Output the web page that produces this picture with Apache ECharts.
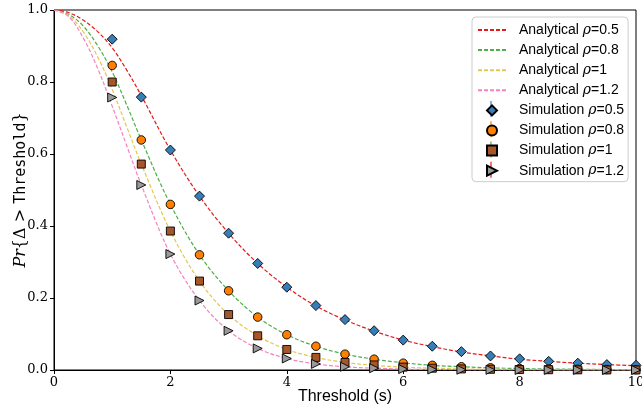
<!DOCTYPE html>
<html>
<head>
<meta charset="utf-8">
<script src="https://cdn.jsdelivr.net/npm/echarts@6/dist/echarts.min.js"></script>
<style>
html,body{margin:0;padding:0;background:#fff;}
#chart{width:642px;height:412px;}
</style>
</head>
<body>
<div id="chart"></div>
<script>
// ---- data ----
var xTicks = [0, 2, 4, 6, 8, 10];
var yTicks = [0.0, 0.2, 0.4, 0.6, 0.8, 1.0];

var xAnalytical = [0, 0.25, 0.5, 0.75, 1, 1.25, 1.5, 2, 2.5, 3, 3.5, 4, 4.5, 5, 5.5, 6, 6.5, 7, 7.5, 8, 8.5, 9, 9.5, 10];
var anaRho05 = [1, 0.993, 0.972, 0.940, 0.895, 0.833, 0.762, 0.611, 0.483, 0.380, 0.296, 0.230, 0.178, 0.139, 0.108, 0.083, 0.065, 0.050, 0.039, 0.030, 0.024, 0.019, 0.015, 0.012];
var anaRho08 = [1, 0.988, 0.956, 0.901, 0.828, 0.736, 0.639, 0.460, 0.320, 0.220, 0.147, 0.098, 0.066, 0.044, 0.030, 0.020, 0.013, 0.009, 0.006, 0.004, 0.003, 0.002, 0.0013, 0.0009];
var anaRho1  = [1, 0.985, 0.940, 0.870, 0.780, 0.675, 0.572, 0.386, 0.247, 0.154, 0.095, 0.057, 0.035, 0.021, 0.013, 0.008, 0.005, 0.003, 0.002, 0.0012, 0.0007, 0.0004, 0.0003, 0.0002];
var anaRho12 = [1, 0.982, 0.923, 0.838, 0.733, 0.623, 0.514, 0.322, 0.193, 0.109, 0.060, 0.032, 0.017, 0.009, 0.005, 0.0025, 0.0013, 0.0007, 0.0004, 0.0002, 0.0001, 0.0001, 0, 0];

var xSim = [1, 1.5, 2, 2.5, 3, 3.5, 4, 4.5, 5, 5.5, 6, 6.5, 7, 7.5, 8, 8.5, 9, 9.5, 10];
var simRho05 = [0.919, 0.758, 0.611, 0.483, 0.380, 0.296, 0.230, 0.179, 0.140, 0.109, 0.083, 0.066, 0.051, 0.039, 0.031, 0.024, 0.019, 0.015, 0.013];
var simRho08 = [0.846, 0.639, 0.460, 0.320, 0.220, 0.147, 0.098, 0.066, 0.044, 0.030, 0.019, 0.013, 0.009, 0.006, 0.004, 0.003, 0.002, 0.0012, 0.0008];
var simRho1  = [0.800, 0.572, 0.386, 0.247, 0.154, 0.095, 0.057, 0.035, 0.021, 0.014, 0.008, 0.005, 0.003, 0.002, 0.0012, 0.0008, 0.0005, 0.0003, 0.0002];
var simRho12 = [0.757, 0.514, 0.322, 0.193, 0.109, 0.060, 0.032, 0.017, 0.009, 0.005, 0.0025, 0.0013, 0.0007, 0.0004, 0.0002, 0.0001, 0.0001, 0, 0];

var anaNames = ['Analytical ρ=0.5', 'Analytical ρ=0.8', 'Analytical ρ=1', 'Analytical ρ=1.2'];
var simNames = ['Simulation ρ=0.5', 'Simulation ρ=0.8', 'Simulation ρ=1', 'Simulation ρ=1.2'];

// ---- styling ----
var lineColors = ['#e41a1c', '#4daf4a', '#e3c753', '#f781bf'];
var markerColors = ['#377eb8', '#ff7f00', '#a65628', '#999999'];
var errColors = ['#377eb8', '#ff7f00', '#4daf4a', '#e41a1c'];
var markerSymbols = [
  'path://M5,0 L10,5 L5,10 L0,5 Z',
  'circle',
  'path://M0,0 L10,0 L10,10 L0,10 Z',
  'path://M0,0 L10,5 L0,10 Z'
];
var markerSizes = [10, 8.5, 8, 9];

function zip(xs, ys) { return xs.map(function (x, i) { return [x, ys[i]]; }); }

var anaData = [anaRho05, anaRho08, anaRho1, anaRho12];
var simData = [simRho05, simRho08, simRho1, simRho12];

var series = [];
anaData.forEach(function (ys, i) {
  series.push({
    name: anaNames[i], type: 'line', data: zip(xAnalytical, ys),
    smooth: 0.35, symbol: 'none', clip: true,
    lineStyle: { color: lineColors[i], width: 1.2, type: [4, 2] },
    itemStyle: { color: lineColors[i] },
    z: 2
  });
});
simData.forEach(function (ys, i) {
  series.push({
    name: simNames[i], type: 'scatter', data: zip(xSim, ys),
    symbol: markerSymbols[i], symbolSize: markerSizes[i], symbolKeepAspect: true,
    itemStyle: { color: markerColors[i], borderColor: '#000', borderWidth: 0.9, opacity: 1 },
    z: 3
  });
});

var legendData = anaNames.map(function (n) {
  return { name: n, itemStyle: { opacity: 0 } };
}).concat(simNames.map(function (n) { return { name: n }; }));

// legend error-bar decoration (vertical ticks through the simulation icons)
var legendLeft = 472, legendTop = 17, rowH = 20.2, firstRow = 11.3;
var graphics = simNames.map(function (n, i) {
  var cy = legendTop + firstRow + (4 + i) * rowH;
  return {
    type: 'line', z: 1,
    shape: { x1: legendLeft + 19, y1: cy - 8, x2: legendLeft + 19, y2: cy + 8 },
    style: { stroke: errColors[i], lineWidth: 1.2 }
  };
});

var chart = echarts.init(document.getElementById('chart'), null, { renderer: 'canvas' });
chart.setOption({
  animation: false,
  backgroundColor: '#fff',
  grid: { left: 54, right: 6, top: 10, bottom: 42, outerBoundsMode: 'none', containLabel: false,
          show: true, borderColor: '#000', borderWidth: 1, backgroundColor: 'transparent' },
  xAxis: {
    type: 'value', min: 0, max: 10, interval: 2,
    name: 'Threshold (s)', nameLocation: 'middle', nameGap: 19, nameMoveOverlap: false,
    nameTextStyle: { fontFamily: 'Liberation Sans', fontSize: 16, color: '#000' },
    axisLine: { show: true, lineStyle: { color: '#000', width: 1 } },
    axisTick: { show: true, inside: false, length: 4, lineStyle: { color: '#000' } },
    axisLabel: { fontFamily: 'DejaVu Serif', fontSize: 13, color: '#000', margin: 6,
      formatter: function (v) { return xTicks.indexOf(v) >= 0 ? String(v) : ''; } },
    splitLine: { show: false }
  },
  yAxis: {
    type: 'value', min: 0, max: 1, interval: 0.2,
    name: '{i|Pr}{n|{Δ > }{t|Threshold}}', nameLocation: 'middle', nameGap: 25, nameMoveOverlap: false,
    nameTextStyle: { fontFamily: 'DejaVu Serif', fontSize: 16, color: '#000',
      rich: {
        i: { fontFamily: 'DejaVu Serif', fontStyle: 'italic', fontSize: 16, color: '#000' },
        n: { fontFamily: 'DejaVu Serif', fontSize: 16, color: '#000' },
        t: { fontFamily: 'DejaVu Sans Mono', fontSize: 15, color: '#000' }
      } },
    axisLine: { show: true, lineStyle: { color: '#000', width: 1 } },
    axisTick: { show: true, inside: false, length: 4, lineStyle: { color: '#000' } },
    axisLabel: { fontFamily: 'DejaVu Serif', fontSize: 13, color: '#000', margin: 6,
      formatter: function (v) { return v.toFixed(1); } },
    splitLine: { show: false }
  },
  legend: {
    orient: 'vertical', left: legendLeft, top: legendTop, z: 4,
    data: legendData,
    padding: [6, 4, 4, 5],
    itemWidth: 28, itemHeight: 10, itemGap: 6.1,
    borderColor: '#cccccc', borderWidth: 1, borderRadius: 4,
    backgroundColor: 'transparent',
    formatter: function (name) {
      var parts = name.split('ρ');
      return '{b|' + parts[0] + '}{r|ρ}{a|' + parts[1] + '}';
    },
    textStyle: {
      fontFamily: 'Liberation Sans', fontSize: 14, color: '#000',
      rich: {
        b: { fontFamily: 'Liberation Sans', fontSize: 14, color: '#000', padding: [0, 0, 0, 8] },
        a: { fontFamily: 'Liberation Sans', fontSize: 14, color: '#000' },
        r: { fontFamily: 'DejaVu Serif', fontStyle: 'italic', fontSize: 14, color: '#000' }
      }
    }
  },
  graphic: graphics,
  series: series
});
</script>
</body>
</html>
